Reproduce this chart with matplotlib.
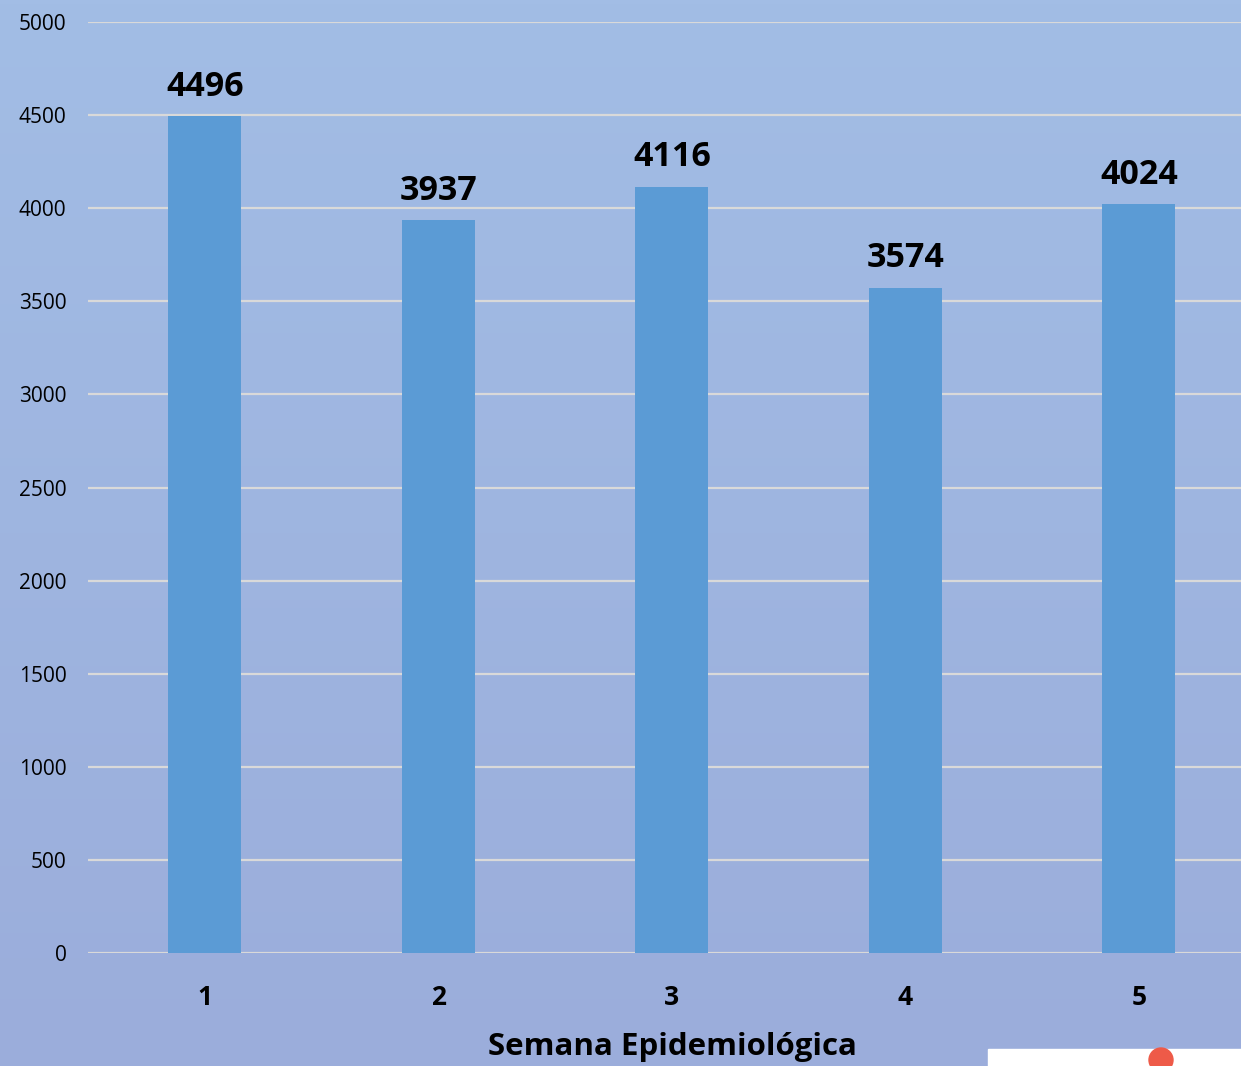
import numpy as np
import matplotlib.pyplot as plt
from matplotlib.patches import Rectangle, Circle

# weekly counts per epidemiological week
semanas = [1, 2, 3, 4, 5]
casos = [4496, 3937, 4116, 3574, 4024]
y_ticks = [0, 500, 1000, 1500, 2000, 2500, 3000, 3500, 4000, 4500, 5000]

bar_color = "#5B9BD5"
grid_color = "#D9D9D9"

fig = plt.figure(figsize=(12.41, 10.66), dpi=100)

# gradient background over the whole figure
bg = fig.add_axes([0, 0, 1, 1], zorder=-10)
top = np.array([162, 189, 229]) / 255
bottom = np.array([155, 173, 219]) / 255
t = np.linspace(0, 1, 256)[:, None]
grad = top * (1 - t) + bottom * t
bg.imshow(grad[:, None, :], aspect="auto", extent=[0, 1, 0, 1])
bg.set_axis_off()

ax = fig.add_axes([88 / 1241, 113 / 1066, 1 - 88 / 1241, 931 / 1066])
ax.patch.set_alpha(0)

ax.bar(semanas, casos, width=0.313, color=bar_color, zorder=3)
for x, v in zip(semanas, casos):
    ax.text(x, v + 65, str(v), ha="center", va="bottom", fontsize=24.5,
            fontweight="bold", family="Open Sans", color="black")

ax.set_xlim(0.5, 5.437)
ax.set_ylim(0, 5000)
ax.set_yticks(y_ticks)
ax.set_xticks(semanas)
ax.yaxis.grid(True, color=grid_color, linewidth=1.6, zorder=0)
ax.set_axisbelow(True)
for s in ax.spines.values():
    s.set_visible(False)
ax.tick_params(length=0)
ax.tick_params(axis="y", pad=15.5, labelsize=15)
ax.tick_params(axis="x", pad=22, labelsize=19)
for lb in ax.get_yticklabels():
    lb.set_family("Open Sans")
for lb in ax.get_xticklabels():
    lb.set_family("Open Sans")
    lb.set_fontweight("bold")

fig.text(672 / 1241, 1 - 1047 / 1066, "Semana Epidemiológica", ha="center",
         va="center", fontsize=22.5, fontweight="bold", family="Open Sans")

# white strip with red dot at the lower right corner
fig.patches.append(Rectangle((988 / 1241, 0), 253 / 1241, 17 / 1066,
                             transform=fig.transFigure, color="white", zorder=5))
fig.patches.append(Circle((1161, 1066 - 1060), 12, transform=None,
                          color="#EE5A48", zorder=6))

fig.savefig("out.png", dpi=100)
